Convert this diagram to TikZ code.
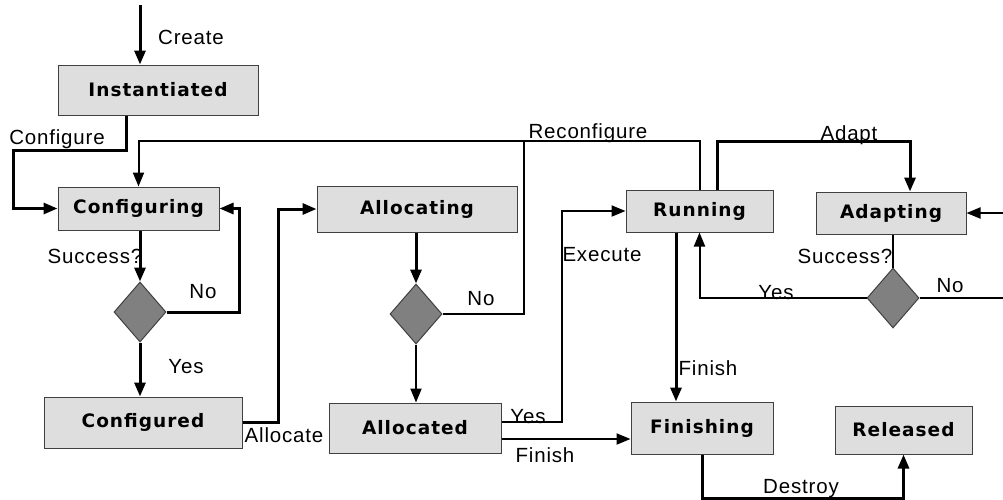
\documentclass[tikz,border=0pt]{standalone}
\usepackage{fontspec}
\setmainfont{Liberation Sans}
\newfontfamily\statefont[LetterSpace=5.5]{DejaVu Sans Bold}
\newfontfamily\labelfont[LetterSpace=4]{Liberation Sans}
\usetikzlibrary{shapes.geometric,arrows.meta}
\definecolor{boxfill}{HTML}{DEDEDE}
\definecolor{boxline}{HTML}{404040}
\definecolor{decfill}{HTML}{808080}
\tikzset{
  state/.style={draw=boxline, line width=1pt, fill=boxfill, inner sep=0pt,
    font=\statefont\fontsize{18.5}{20}\selectfont},
  decision/.style={diamond, draw=boxline, line width=1pt, fill=decfill,
    inner sep=0pt, minimum width=52pt, minimum height=60pt},
  heavy/.style={line width=3pt, -{Triangle[length=14pt,width=11pt]}},
  light/.style={line width=2pt, -{Triangle[length=14pt,width=11pt]}},
  lightplain/.style={line width=2pt},
  lbl/.style={inner sep=0pt, font=\labelfont\fontsize{20.5}{22}\selectfont}
}
\begin{document}
\begin{tikzpicture}[x=1pt, y=-1pt]
\useasboundingbox (0,0) rectangle (1003,499);

% states
\node[state, minimum width=200pt, minimum height=50pt] (inst) at (158,90) {Instantiated};
\node[state, minimum width=161pt, minimum height=43pt] (cfging) at (138.5,208.5) {Configuring};
\node[state, minimum width=200pt, minimum height=46pt] (alloc) at (417,209) {Allocating};
\node[state, minimum width=147pt, minimum height=42pt] (run) at (699.5,211) {Running};
\node[state, minimum width=150pt, minimum height=42pt] (adapt) at (891,213) {Adapting};
\node[state, minimum width=198pt, minimum height=51pt] (cfged) at (143,422.5) {Configured};
\node[state, minimum width=172pt, minimum height=50pt] (alloced) at (415,428) {Allocated};
\node[state, minimum width=142pt, minimum height=52pt] (fin) at (702,428) {Finishing};
\node[state, minimum width=137pt, minimum height=48pt] (rel) at (903.5,430) {Released};

% decisions
\node[decision] (d1) at (140,312) {};
\node[decision] (d2) at (416,314) {};
\node[decision] (d3) at (893,298) {};

% free ends and bends
\coordinate (start) at (140,5);
\coordinate (topline) at (0,141);
\coordinate (rjoin) at (524,141);
\coordinate (noedge) at (1003,298);
\coordinate (inedge) at (1003,213);
\coordinate (adin) at ([xshift=19pt]adapt.north);
\coordinate (runout) at ([xshift=17.5pt]run.north);
\coordinate (runfin) at ([xshift=-23.5pt]run.south);

% create / configure
\draw[heavy] (start) -- (start |- inst.north);
\draw[heavy] ([xshift=-32pt]inst.south) |- (13,150) |- (cfging.west);

% configuring loop
\draw[heavy] (d1.north |- cfging.south) -- (d1.north);
\draw[heavy] (d1.east) -| ([xshift=20pt]cfging.east) -- (cfging.east);
\draw[heavy] (d1.south) -- (d1.south |- cfged.north);

% allocation
\draw[heavy] (cfged.east) -| ([xshift=-38pt]alloc.west) -- (alloc.west);
\draw[heavy] (d2.north |- alloc.south) -- (d2.north);
\draw[light] (d2.south) -- (d2.south |- alloced.north);

% reconfigure
\draw[light] (run.north) |- (topline -| cfging.north) -- (cfging.north);
\draw[lightplain] (d2.east) -| (rjoin);

% execute / finish
\draw[light] ([yshift=6pt]alloced.east) -| ([xshift=-64pt]run.west) -- (run.west);
\draw[light] ([yshift=-11pt]alloced.east) -- ([yshift=-11pt]alloced.east -| fin.west);
\draw[heavy] (runfin) -- (runfin |- fin.north);

% adaptation
\draw[heavy] (runout) |- (topline -| adin) -- (adin);
\draw[lightplain] (d3.north |- adapt.south) -- (d3.north);
\draw[light] (d3.west) -| (run.south);
\draw[lightplain] (d3.east) -- (noedge);
\draw[light] (inedge) -- (adapt.east);

% destroy
\draw[heavy] (fin.south) |- ([yshift=-44pt]rel.south) -- (rel.south);

% labels
\node[lbl] (lcreate) at (191,37) {Create};
\node[lbl] (lconf) at (57,139) {Configure};
\node[lbl] (lrecf) at (588,133) {Reconfigure};
\node[lbl] (lsucc1) at (95,256) {Success?};
\node[lbl] (lno1) at (203,292) {No};
\node[lbl] (lyes1) at (186,367) {Yes};
\node[lbl] (lalloc) at (284,435) {Allocate};
\node[lbl] (lno2) at (481,299) {No};
\node[lbl] (lyes2) at (528,417) {Yes};
\node[lbl] (lexec) at (602,255) {Execute};
\node[lbl] (lfin1) at (545,455) {Finish};
\node[lbl] (lfin2) at (708,368) {Finish};
\node[lbl] (ladapt) at (849,135) {Adapt};
\node[lbl] (lsucc3) at (845,256) {Success?};
\node[lbl] (lyes3) at (776,293) {Yes};
\node[lbl] (lno3) at (950,286) {No};
\node[lbl] (ldestroy) at (801,489) {Destroy};
\end{tikzpicture}
\end{document}
